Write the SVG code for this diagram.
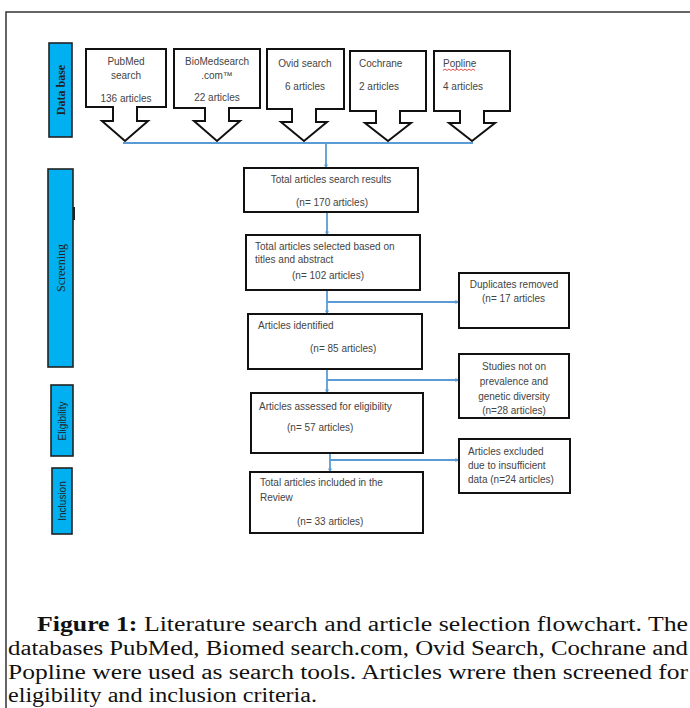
<svg xmlns="http://www.w3.org/2000/svg" width="690" height="708" viewBox="0 0 690 708">
<defs>
<marker id="ah" viewBox="0 0 10 10" refX="9" refY="5" markerWidth="4" markerHeight="4" orient="auto-start-reverse" markerUnits="userSpaceOnUse">
<path d="M0,0 L10,5 L0,10 Z" fill="#5b9bd5"/>
</marker>
<style>
.bx{fill:#fff;stroke:#111;stroke-width:2}
.bar{fill:#00b0f0;stroke:#222;stroke-width:1.6}
.t{font-family:"Liberation Sans",Arial,sans-serif;font-size:10px;fill:#444}
.c{text-anchor:middle}
.ln{fill:none;stroke:#5b9bd5;stroke-width:1.8}
.ar{marker-end:url(#ah)}
.bl{font-family:"Liberation Serif","Times New Roman",serif;font-size:12px;fill:#222;text-anchor:middle}
.bls{font-family:"Liberation Sans",Arial,sans-serif;font-size:10px;fill:#222;text-anchor:middle}
.cap{font-family:"Liberation Serif","Times New Roman",serif;font-size:20px;fill:#111}
</style>
</defs>
<rect width="690" height="708" fill="#fff"/>
<path d="M6,708 V12 H690" fill="none" stroke="#333" stroke-width="1.5"/>

<g id="bar-database"><rect class="bar" x="49" y="43" width="23" height="94"/><text class="bl" font-weight="bold" transform="translate(64.5,90) rotate(-90)">Data base</text></g>
<g id="bar-screening"><rect class="bar" x="48" y="169" width="25" height="198"/><rect x="73" y="207" width="2" height="13" fill="#222"/><text class="bl" transform="translate(64.5,268) rotate(-90)">Screening</text></g>
<g id="bar-eligibility"><rect class="bar" x="51" y="385" width="22" height="71"/><text class="bls" transform="translate(65.5,421) rotate(-90)">Eligibility</text></g>
<g id="bar-inclusion"><rect class="bar" x="52" y="468" width="20" height="66"/><text class="bls" transform="translate(65.5,501) rotate(-90)">Inclusion</text></g>

<g id="src-pubmed"><path class="bx" d="M86,49 H166 V107 H137 V121 H148 L125,141 L102,121 H113 V107 H86 Z"/>
<text class="t c" x="126" y="65">PubMed</text><text class="t c" x="126" y="79">search</text><text class="t c" x="126" y="102">136 articles</text></g>
<g id="src-biomed"><path class="bx" d="M174,49 H260 V108 H229 V121 H240 L217,141 L194,121 H205 V108 H174 Z"/>
<text class="t c" x="217" y="65">BioMedsearch</text><text class="t c" x="217" y="79">.com™</text><text class="t c" x="217" y="101">22 articles</text></g>
<g id="src-ovid"><path class="bx" d="M267,49 H344 V109 H316 V122 H327 L304,141 L281,122 H292 V109 H267 Z"/>
<text class="t c" x="305" y="67">Ovid search</text><text class="t c" x="305" y="90">6 articles</text></g>
<g id="src-cochrane"><path class="bx" d="M350,51 H426 V111 H400 V123 H411 L388,141 L365,123 H376 V111 H350 Z"/>
<text class="t" x="359" y="67">Cochrane</text><text class="t" x="359" y="90">2 articles</text></g>
<g id="src-popline"><path class="bx" d="M434,51 H510 V111 H484 V123 H495 L472,141 L449,123 H460 V111 H434 Z"/>
<text class="t" x="443" y="67">Popline</text><text class="t" x="443" y="90">4 articles</text>
<path d="M443,70.5 l2,-1.5 l2,1.5 l2,-1.5 l2,1.5 l2,-1.5 l2,1.5 l2,-1.5 l2,1.5 l2,-1.5 l2,1.5 l2,-1.5 l2,1.5 l2,-1.5 l2,1.5 l2,-1.5 l2,1.5" fill="none" stroke="#e02020" stroke-width="0.8"/></g>

<g id="connectors">
<path class="ln" d="M123,143 H473"/>
<path class="ln ar" d="M326,143 V168"/>
<path class="ln ar" d="M327,212 V235"/>
<path class="ln ar" d="M327,290 V314"/>
<path class="ln ar" d="M327,302 H459"/>
<path class="ln ar" d="M327,369 V393"/>
<path class="ln ar" d="M327,380 H459"/>
<path class="ln ar" d="M330,453 V472"/>
<path class="ln ar" d="M330,460 H459"/>
</g>

<g id="n-total"><rect class="bx" x="244" y="168" width="174" height="44"/>
<text class="t c" x="331" y="183">Total articles search results</text><text class="t c" x="332" y="206">(n= 170 articles)</text></g>
<g id="n-selected"><rect class="bx" x="246" y="235" width="174" height="55"/>
<text class="t" x="255" y="250">Total articles selected based on</text><text class="t" x="255" y="263">titles and abstract</text><text class="t" x="292" y="279">(n= 102 articles)</text></g>
<g id="n-identified"><rect class="bx" x="248" y="314" width="174" height="55"/>
<text class="t" x="258" y="329">Articles identified</text><text class="t" x="310" y="352">(n= 85 articles)</text></g>
<g id="n-assessed"><rect class="bx" x="251" y="393" width="172" height="60"/>
<text class="t" x="259" y="410">Articles assessed for eligibility</text><text class="t" x="287" y="431">(n= 57 articles)</text></g>
<g id="n-included"><rect class="bx" x="250" y="472" width="173" height="61"/>
<text class="t" x="260" y="486">Total articles included in the</text><text class="t" x="260" y="501">Review</text><text class="t" x="297" y="525">(n= 33 articles)</text></g>

<g id="n-duplicates"><rect class="bx" x="459" y="273" width="110" height="55"/>
<text class="t c" x="514" y="288">Duplicates removed</text><text class="t" x="482" y="302">(n= 17 articles</text></g>
<g id="n-studies"><rect class="bx" x="459" y="354" width="110" height="64"/>
<text class="t c" x="514" y="370">Studies not on</text><text class="t c" x="514" y="385">prevalence and</text><text class="t c" x="514" y="400">genetic diversity</text><text class="t c" x="514" y="414">(n=28 articles)</text></g>
<g id="n-excluded"><rect class="bx" x="459" y="439" width="111" height="54"/>
<text class="t" x="468" y="455">Articles excluded</text><text class="t" x="468" y="469">due to insufficient</text><text class="t" x="468" y="483">data (n=24 articles)</text></g>

<g id="caption">
<text class="cap" x="37" y="631" textLength="651" lengthAdjust="spacingAndGlyphs"><tspan font-weight="bold">Figure 1:</tspan> Literature search and article selection flowchart. The</text>
<text class="cap" x="8" y="655" textLength="680" lengthAdjust="spacingAndGlyphs">databases PubMed, Biomed search.com, Ovid Search, Cochrane and</text>
<text class="cap" x="8" y="679" textLength="680" lengthAdjust="spacingAndGlyphs">Popline were used as search tools. Articles wrere then screened for</text>
<text class="cap" x="8" y="702" textLength="309" lengthAdjust="spacingAndGlyphs">eligibility and inclusion criteria.</text>
</g>
</svg>
